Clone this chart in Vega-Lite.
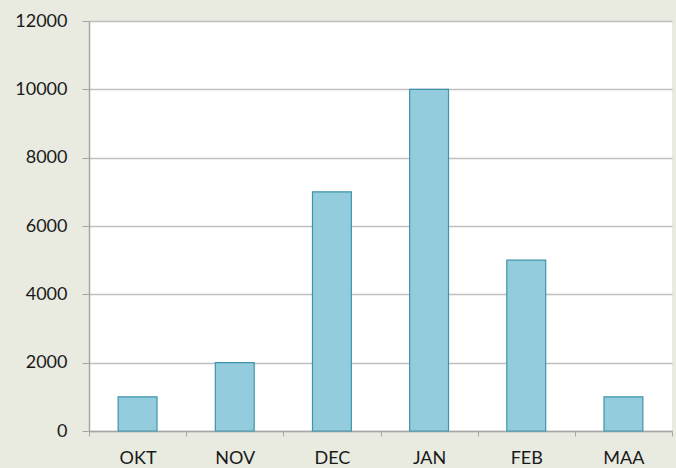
{
  "$schema": "https://vega.github.io/schema/vega-lite/v6.json",
  "width": 583,
  "height": 410,
  "autosize": {"type": "none"},
  "padding": {"left": 89, "top": 21, "right": 4, "bottom": 37},
  "background": "#e9ebe1",
  "config": {
    "view": {"fill": "white", "stroke": null},
    "font": "Lato"
  },
  "data": {
    "values": [
      {"month": "OKT", "value": 1000},
      {"month": "NOV", "value": 2000},
      {"month": "DEC", "value": 7000},
      {"month": "JAN", "value": 10000},
      {"month": "FEB", "value": 5000},
      {"month": "MAA", "value": 1000}
    ]
  },
  "mark": {
    "type": "bar",
    "width": {"band": 0.4},
    "fill": "#93cddd",
    "stroke": "#3f93ab",
    "strokeWidth": 1.2
  },
  "encoding": {
    "x": {
      "field": "month",
      "type": "nominal",
      "sort": null,
      "scale": {"paddingInner": 0, "paddingOuter": 0},
      "axis": {
        "title": null,
        "labelAngle": 0,
        "labelFontSize": 18,
        "labelColor": "#1a1a1a",
        "labelPadding": 13,
        "bandPosition": 0,
        "tickBand": "extent",
        "tickSize": 5,
        "tickColor": "#a6a6a6",
        "domainColor": "#a6a6a6",
        "domainWidth": 1.5,
        "labelBound": false,
        "grid": false
      }
    },
    "y": {
      "field": "value",
      "type": "quantitative",
      "scale": {"domain": [0, 12000], "nice": false},
      "axis": {
        "title": null,
        "values": [0, 2000, 4000, 6000, 8000, 10000, 12000],
        "format": "d",
        "labelFontSize": 18,
        "labelColor": "#1a1a1a",
        "labelPadding": 15,
        "tickSize": 7,
        "tickColor": "#a6a6a6",
        "domainColor": "#a6a6a6",
        "domainWidth": 1.5,
        "gridColor": "#bfbfbf",
        "gridWidth": 1.3
      }
    }
  }
}
